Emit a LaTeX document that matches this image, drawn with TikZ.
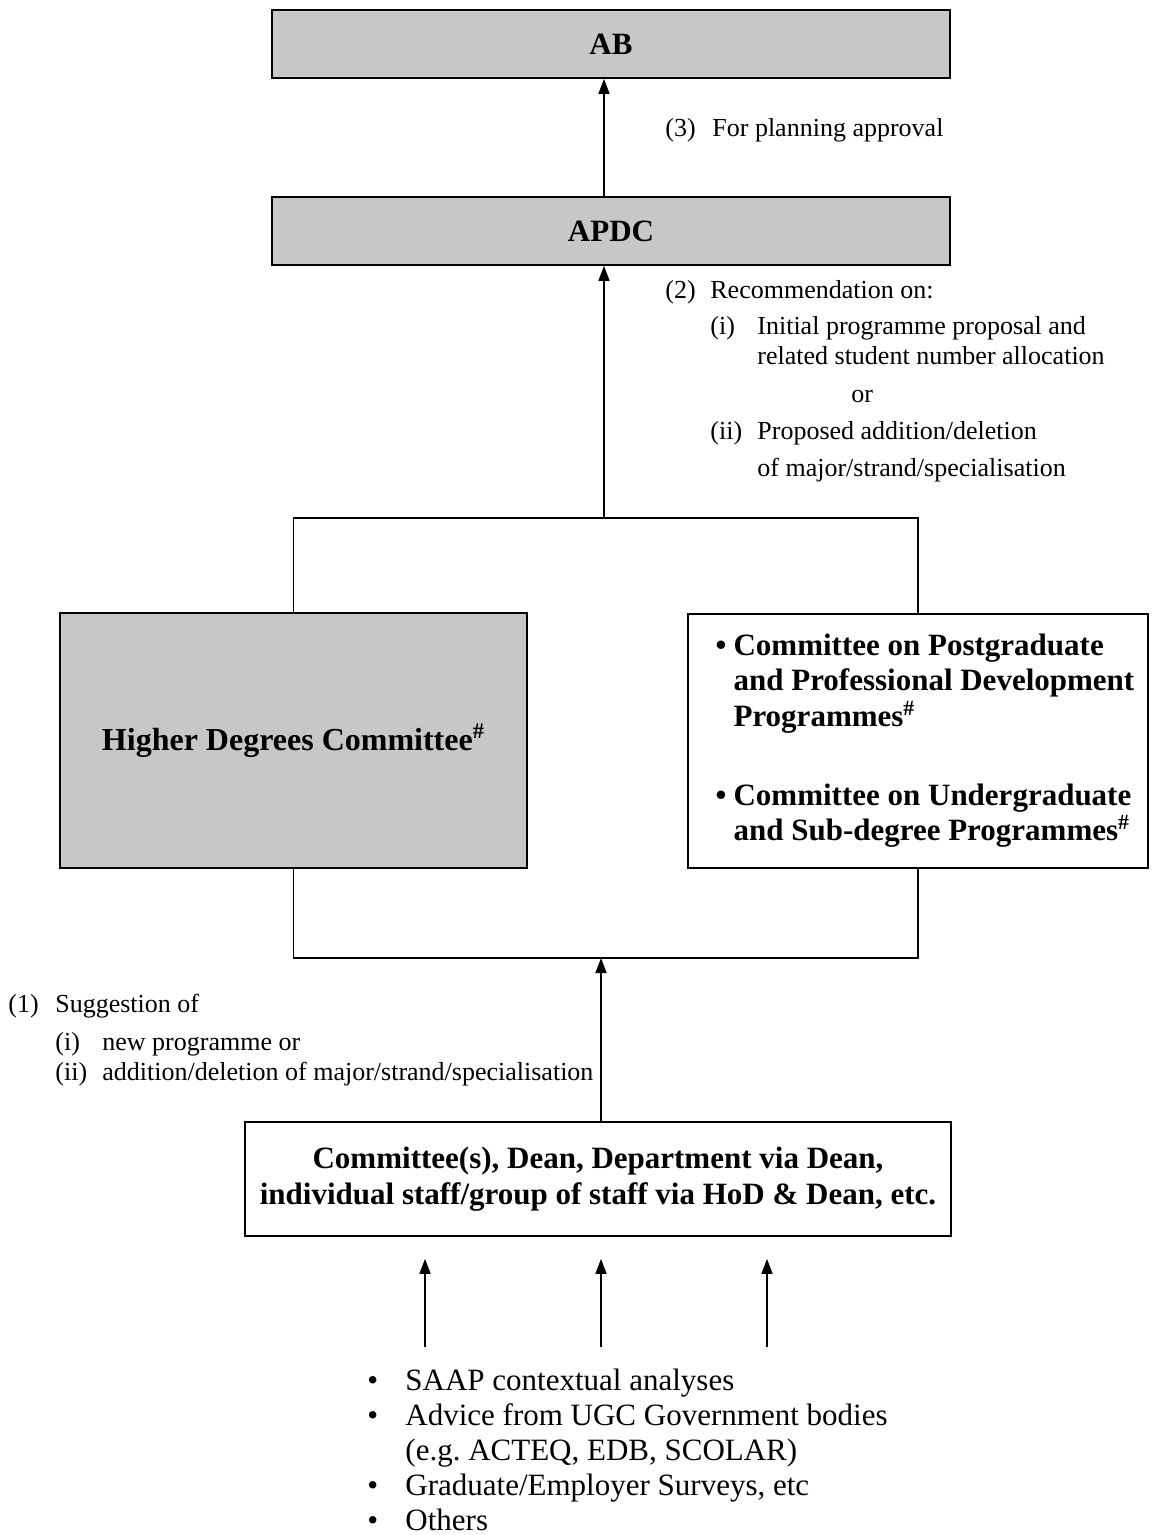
\documentclass[tikz,border=0pt]{standalone}
\usepackage{fontspec}
\setmainfont{Liberation Serif}
\usetikzlibrary{arrows.meta}
\begin{document}
\begin{tikzpicture}[x=0.5pt,y=-0.5pt,
	graybox/.style={draw,line width=0.9pt,fill=black!22,inner sep=0pt,font=\fontsize{15.5}{17.5}\selectfont\bfseries},
	whitebox/.style={draw,line width=0.9pt,fill=white,inner sep=0pt,font=\fontsize{15.5}{17.5}\selectfont\bfseries},
	lbl/.style={anchor=base west,inner sep=0pt,font=\fontsize{13}{15}\selectfont},
	arr/.style={line width=0.8pt,-{Triangle[length=7.5pt,width=5.5pt]}}]
		\useasboundingbox (0,0) rectangle (1151,1535);
		%AB und APDC
		\node[graybox,minimum width=339pt,minimum height=34pt] (ab) at (611,44) {AB};
		\node[graybox,minimum width=339pt,minimum height=34pt] (apdc) at (611,231) {APDC};
		\node[lbl] (lbl3) at (665,137) {\makebox[23.5pt][l]{(3)}For planning approval};
		%Ausschuesse
		\node[graybox,minimum width=233.5pt,minimum height=127.5pt,font=\fontsize{16}{18}\selectfont\bfseries] (hdc) at (293.5,740.5) {Higher Degrees Committee\textsuperscript{\#}};
		\node[whitebox,minimum width=230pt,minimum height=127pt] (cpd) at (918,741) {\begin{tabular}{@{\hspace{7pt}}l@{\hspace{3.5pt}}l@{}}
			\textbullet & Committee on Postgraduate\\
			& and Professional Development\\
			& Programmes\textsuperscript{\#}\\[22pt]
			\textbullet & Committee on Undergraduate\\
			& and Sub-degree Programmes\textsuperscript{\#}
		\end{tabular}};
		\node[lbl] (lbl2) at (665,299) {\begin{tabular}[t]{@{}p{22.5pt}@{}p{23.5pt}@{}l@{}}
			(2) & \multicolumn{2}{@{}l@{}}{Recommendation on:}\\[3pt]
			& (i) & Initial programme proposal and\\
			& & related student number allocation\\[4pt]
			& & \hspace{47pt}or\\[3.5pt]
			& (ii) & Proposed addition/deletion\\[3.5pt]
			& & of major/strand/specialisation
		\end{tabular}};
		%Vorschlag
		\node[whitebox,minimum width=353pt,minimum height=57pt,align=center,font=\fontsize{15.5}{18}\selectfont\bfseries] (src) at (598,1179) {Committee(s), Dean, Department via Dean,\\individual staff/group of staff via HoD \& Dean, etc.};
		\node[lbl] (lbl1) at (8,1012) {\begin{tabular}[t]{@{}p{23.5pt}@{}p{23.5pt}@{}l@{}}
			(1) & \multicolumn{2}{@{}l@{}}{Suggestion of}\\[4pt]
			& (i) & new programme or\\
			& (ii) & addition/deletion of major/strand/specialisation
		\end{tabular}};
		\node[lbl,font=\fontsize{15.5}{17.5}\selectfont] (inputs) at (367,1390) {\begin{tabular}[t]{@{}l@{\hspace{13.6pt}}l@{}}
			\textbullet & SAAP contextual analyses\\
			\textbullet & Advice from UGC Government bodies\\
			& (e.g.\ ACTEQ, EDB, SCOLAR)\\
			\textbullet & Graduate/Employer Surveys, etc\\
			\textbullet & Others
		\end{tabular}};
		%Verbindungen
		\coordinate (top) at (604,518);
		\coordinate (bot) at (601,958);
		\draw[arr] (apdc.north -| top) -- (ab.south -| top);
		\draw[arr] (top) -- (apdc.south -| top);
		\draw[line width=0.8pt] (hdc.north) |- (top) -| (cpd.north);
		\draw[line width=0.8pt] (hdc.south) |- (bot) -| (cpd.south);
		\draw[arr] (src.north -| bot) -- (bot);
		\foreach \x [count=\i] in {425,601,767} {
			\coordinate (in\i) at (\x,1347);
			\draw[arr,shorten >=11pt] (in\i) -- (src.south -| in\i);
		}
\end{tikzpicture}
\end{document}
